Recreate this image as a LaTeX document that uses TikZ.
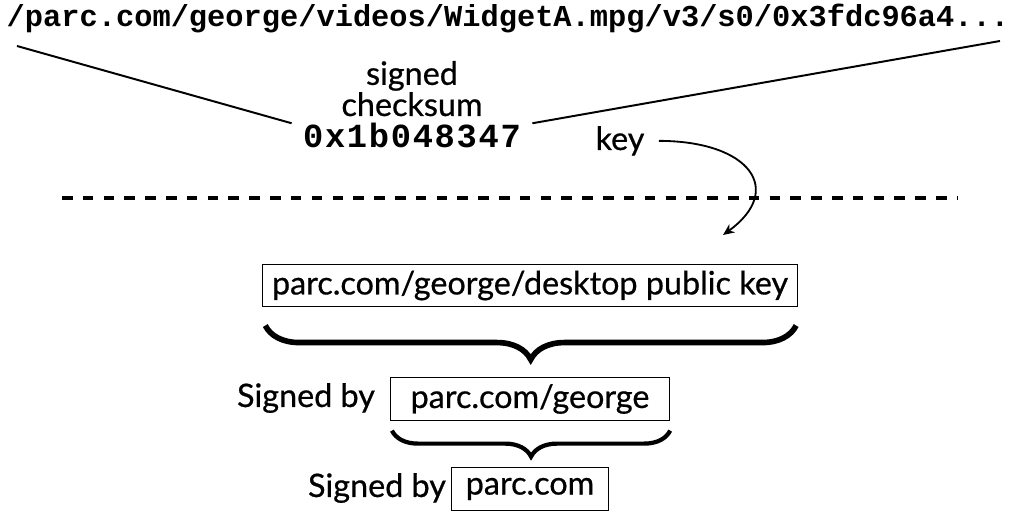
\documentclass[tikz,border=0pt]{standalone}
\usepackage{fontspec}
\setmainfont{Lato}[FakeBold=0.6]
\newfontfamily\urlfont{Liberation Mono}
\newfontfamily\hexfont[LetterSpace=5]{Liberation Mono}
\usetikzlibrary{decorations.pathreplacing,arrows.meta}
\begin{document}
\begin{tikzpicture}[x=0.025cm,y=-0.025cm]
\tikzstyle{boxed}=[draw,line width=0.8pt,minimum height=1.06cm,inner sep=0pt]
\tikzstyle{txt}=[font=\fontsize{23}{20}\selectfont]
\useasboundingbox (0,0) rectangle (1020,523);
\node[anchor=base,inner sep=0pt,font=\urlfont\bfseries\fontsize{21.6}{24}\selectfont] at (508,27) (url) {/parc.com/george/videos/WidgetA.mpg/v3/s0/0x3fdc96a4...};
\node[txt,align=center,anchor=base] at (412,116) (sig) {signed\\checksum};
\node[anchor=base,inner sep=0pt,font=\hexfont\bfseries\fontsize{24}{26}\selectfont] at (412,148) (hex) {0x1b048347};
\node[txt,anchor=base,inner sep=10pt] at (620,150) (key) {key};
\coordinate (ul) at (17,46);
\coordinate (ur) at (1000,41);
\coordinate (kt) at (723,235);
\draw[line width=1.4pt] (ul) -- ([xshift=-8pt]hex.north west)
     (ur) -- ([xshift=8pt]hex.north east);
\draw[line width=1.3pt,-{Stealth[length=8pt,width=7pt,inset=2.5pt]}]
     (key.east) .. controls (750,141) and (785,190) .. (kt);
\draw[line width=2.85pt,dash pattern=on 7.5pt off 7.3pt] (62,198) -- (958,198);
\node[boxed,txt,minimum width=13.38cm] at (530,285.5) (pk) {parc.com/george/desktop public key};
\node[boxed,txt,minimum width=6.98cm] at (530,399) (pg) {parc.com/george};
\node[boxed,txt,minimum width=3.93cm] at (530,489) (pc) {parc.com};
\node[txt,anchor=base] at (306,407) (sb1) {Signed by};
\node[txt,anchor=base] at (377,497) (sb2) {Signed by};
\draw[decorate,decoration={brace,mirror,amplitude=0.85cm},line width=4pt]
     ([xshift=2.5pt,yshift=-13pt]pk.south west) -- ([xshift=-1.5pt,yshift=-13pt]pk.south east);
\draw[decorate,decoration={brace,mirror,amplitude=0.65cm},line width=3pt]
     ([xshift=1.5pt,yshift=-7pt]pg.south west) -- ([yshift=-7pt]pg.south east);
\end{tikzpicture}
\end{document}
